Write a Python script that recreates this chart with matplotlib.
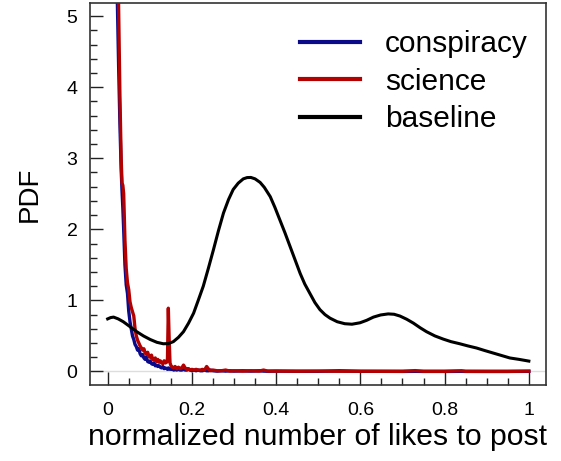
import matplotlib
matplotlib.use("Agg")
import matplotlib.pyplot as plt
from matplotlib.ticker import MultipleLocator

plt.rcParams['font.family'] = ['Liberation Sans', 'DejaVu Sans']

# ---- data ----
noise_x = [0.018, 0.022, 0.026, 0.029, 0.032, 0.034, 0.036, 0.038, 0.041, 0.044,
           0.047, 0.050, 0.053, 0.056, 0.059, 0.062, 0.065, 0.068, 0.071, 0.074,
           0.077, 0.080, 0.083, 0.086, 0.089, 0.092, 0.095, 0.098, 0.101, 0.104,
           0.107, 0.110, 0.113, 0.116, 0.119, 0.122, 0.125, 0.128, 0.131, 0.134,
           0.137, 0.140, 0.142, 0.144, 0.146, 0.148, 0.151, 0.154, 0.157, 0.160,
           0.164, 0.168, 0.172, 0.176, 0.180, 0.184, 0.188, 0.192, 0.196, 0.200,
           0.205, 0.210, 0.215, 0.220, 0.225, 0.230, 0.235, 0.240, 0.245, 0.250,
           0.26, 0.27, 0.28, 0.29, 0.30, 0.32, 0.34, 0.36, 0.37, 0.38,
           0.40, 0.45, 0.50, 0.55, 0.60, 0.65, 0.70, 0.73, 0.75, 0.80,
           0.84, 0.85, 0.90, 0.95, 1.00]

science_y = [9.0, 6.8, 5.1, 3.9, 3.0, 2.65, 2.62, 2.5, 1.85, 1.45,
             1.25, 1.15, 0.98, 0.90, 0.84, 0.78, 0.60, 0.50, 0.44, 0.40,
             0.36, 0.33, 0.30, 0.32, 0.26, 0.24, 0.27, 0.21, 0.20, 0.23,
             0.17, 0.16, 0.19, 0.14, 0.17, 0.13, 0.15, 0.12, 0.11, 0.15,
             0.12, 0.13, 0.18, 0.89, 0.45, 0.12, 0.07, 0.06, 0.05, 0.07,
             0.04, 0.06, 0.04, 0.05, 0.09, 0.05, 0.03, 0.04, 0.02, 0.03,
             0.02, 0.03, 0.02, 0.02, 0.03, 0.02, 0.07, 0.03, 0.01, 0.02,
             0.01, 0.01, 0.02, 0.005, 0.01, 0.005, 0.01, 0.005, 0.02, 0.005,
             0.005, 0.003, 0.005, 0.003, 0.003, 0.002, 0.002, 0.012, 0.002, 0.002,
             0.01, 0.002, 0.001, 0.001, 0.005]

conspiracy_y = [8.0, 5.5, 4.3, 3.5, 2.85, 2.55, 2.3, 2.0, 1.5, 1.22,
                1.10, 0.85, 0.70, 0.60, 0.50, 0.45, 0.38, 0.35, 0.30, 0.32,
                0.25, 0.22, 0.24, 0.19, 0.17, 0.20, 0.14, 0.13, 0.15, 0.11,
                0.10, 0.12, 0.08, 0.09, 0.07, 0.08, 0.06, 0.05, 0.07, 0.04,
                0.05, 0.04, 0.03, 0.05, 0.04, 0.03, 0.04, 0.03, 0.02, 0.03,
                0.02, 0.03, 0.02, 0.02, 0.03, 0.02, 0.02, 0.03, 0.02, 0.01,
                0.02, 0.01, 0.02, 0.01, 0.01, 0.02, 0.01, 0.01, 0.02, 0.01,
                0.005, 0.01, 0.005, 0.01, 0.005, 0.01, 0.005, 0.01, 0.005, 0.003,
                0.005, 0.003, 0.002, 0.01, 0.002, 0.002, 0.001, 0.002, 0.001, 0.001,
                0.002, 0.001, 0.001, 0.001, 0.002]

baseline_x = [0.0, 0.007, 0.014, 0.025, 0.037, 0.052, 0.069, 0.085, 0.101, 0.117,
              0.132, 0.144, 0.156, 0.168, 0.18, 0.192, 0.204, 0.215, 0.227, 0.239,
              0.251, 0.263, 0.275, 0.287, 0.298, 0.31, 0.322, 0.331, 0.34, 0.35,
              0.362, 0.372, 0.386, 0.397, 0.409, 0.421, 0.433, 0.445, 0.457, 0.468,
              0.48, 0.492, 0.504, 0.516, 0.528, 0.545, 0.563, 0.58, 0.599, 0.615,
              0.631, 0.648, 0.666, 0.68, 0.694, 0.71, 0.726, 0.742, 0.757, 0.777,
              0.797, 0.815, 0.836, 0.855, 0.876, 0.895, 0.915, 0.935, 0.955, 0.977,
              1.0]
baseline_y = [0.74, 0.758, 0.765, 0.74, 0.70, 0.635, 0.56, 0.50, 0.45, 0.41,
              0.39, 0.392, 0.42, 0.48, 0.56, 0.68, 0.82, 1.0, 1.2, 1.45,
              1.71, 1.98, 2.23, 2.42, 2.56, 2.65, 2.71, 2.728, 2.73, 2.71,
              2.66, 2.59, 2.46, 2.31, 2.13, 1.95, 1.76, 1.57, 1.38, 1.23,
              1.10, 0.97, 0.87, 0.80, 0.75, 0.70, 0.672, 0.665, 0.685, 0.72,
              0.765, 0.795, 0.81, 0.805, 0.78, 0.735, 0.68, 0.615, 0.56, 0.50,
              0.455, 0.42, 0.39, 0.36, 0.33, 0.295, 0.26, 0.225, 0.19, 0.17,
              0.146]

labels = ['conspiracy', 'science', 'baseline']
colors = ['#0b0b8a', '#b30000', '#000000']

x_ticks = [0, 0.2, 0.4, 0.6, 0.8, 1.0]
x_ticklabels = ['0', '0.2', '0.4', '0.6', '0.8', '1']
y_ticks = [0, 1, 2, 3, 4, 5]

# ---- figure ----
fig = plt.figure(figsize=(5.61, 4.61), dpi=100)
ax_w = 0.9727 - 0.1604
ax = fig.add_axes([0.1604, 0.1649, ax_w, 0.9928 - 0.1649])

ax.axhline(0, color='#dddddd', lw=1.0, zorder=0)
ax.plot(noise_x, conspiracy_y, color=colors[0], lw=2.4, label=labels[0], zorder=2,
        solid_joinstyle='round')
ax.plot(noise_x, science_y, color=colors[1], lw=2.4, label=labels[1], zorder=3,
        solid_joinstyle='round')
ax.plot(baseline_x, baseline_y, color=colors[2], lw=2.2, label=labels[2], zorder=4,
        solid_joinstyle='round')

ax.set_xlim(-0.042, 1.04)
ax.set_ylim(-0.19, 5.18)

ax.set_xticks(x_ticks)
ax.set_xticklabels(x_ticklabels)
ax.set_yticks(y_ticks)
ax.xaxis.set_minor_locator(MultipleLocator(0.05))
ax.yaxis.set_minor_locator(MultipleLocator(0.2))

ax.tick_params(which='both', direction='in', top=False, right=False,
               color='#222222', width=1.0)
ax.tick_params(which='major', length=9.5, labelsize=14)
ax.tick_params(axis='y', which='major', pad=9)
ax.tick_params(axis='x', which='major', pad=12)
ax.tick_params(which='minor', length=5)

for s in ax.spines.values():
    s.set_color('#333333')
    s.set_linewidth(1.2)

ax.set_xlabel('normalized number of likes to post', fontsize=21.7, labelpad=3)
ax.set_ylabel('PDF', fontsize=20, labelpad=17)

leg = ax.legend(loc='upper right', bbox_to_anchor=(1.0 + 9 / (561 * ax_w), 1.0),
                frameon=False, fontsize=21.5,
                handlelength=2.0, handletextpad=0.85, labelspacing=0.32,
                borderaxespad=0.5)
for line in leg.get_lines():
    line.set_linewidth(3.0)

fig.savefig('out.png', dpi=100)
